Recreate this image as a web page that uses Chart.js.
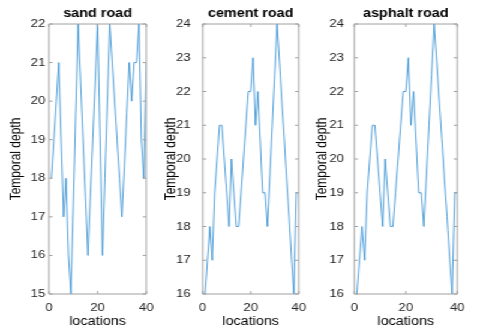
<!DOCTYPE html>
<html>
<head>
<meta charset="utf-8">
<script src="https://cdn.jsdelivr.net/npm/chart.js@4.4.1/dist/chart.umd.min.js"></script>
<style>
  html, body { margin: 0; padding: 0; background: #fff; overflow: hidden; }
  /* the source figure is stretched sideways, so lay out at 400px and stretch */
  #wrap { position: absolute; left: 0; top: 0; width: 400px; height: 332px;
          transform: scaleX(1.2); transform-origin: 0 0; }
  #wrap canvas { position: absolute; top: 0; }
</style>
</head>
<body>
<div id="wrap">
  <canvas id="sand" width="135" height="332" style="left:0px"></canvas>
  <canvas id="cement" width="132" height="332" style="left:130px"></canvas>
  <canvas id="asphalt" width="144" height="332" style="left:256px"></canvas>
</div>
<script>
const locations = [1, 2, 3, 4, 5, 6, 7, 8, 9, 10, 11, 12, 13, 14, 15, 16, 17, 18, 19, 20,
                   21, 22, 23, 24, 25, 26, 27, 28, 29, 30, 31, 32, 33, 34, 35, 36, 37, 38, 39, 40];

const sandDepth = [18, 19, 20, 21, 19, 17, 18, 16, 15, 17.3, 19.7, 22, 20.5, 19, 17.5, 16, 17.5, 19, 20.5, 22,
                   19, 16, 18, 20, 22, 21, 20, 19, 18, 17, 18.3, 19.7, 21, 20, 21, 21, 22, 19, 18, 21];
const cementDepth = [16, 17, 18, 17, 19, 20, 21, 21, 20, 19, 18, 20, 19, 18, 18, 19, 20, 21, 22, 22,
                     23, 21, 22, 20.5, 19, 19, 18, 19.5, 21, 22.5, 24, 22.9, 21.7, 20.6, 19.4, 18.3, 17.1, 16, 19, 19];
const asphaltDepth = [16, 17, 18, 17, 19, 20, 21, 21, 20, 19, 18, 20, 19, 18, 18, 19, 20, 21, 22, 22,
                      23, 21, 22, 20.5, 19, 19, 18, 19.5, 21, 22.5, 24, 22.9, 21.7, 20.6, 19.4, 18.3, 17.1, 16, 19, 19];

const xTicks = [0, 20, 40];
const sandTicks = [15, 16, 17, 18, 19, 20, 21, 22];
const roadTicks = [16, 17, 18, 19, 20, 21, 22, 23, 24];

const FONT = '"Liberation Sans", Arial, Helvetica, sans-serif';
Chart.defaults.font.family = FONT;
Chart.defaults.color = '#262626';

// box round the plot, inward ticks on all four sides, bold title on top
const matlabAxes = {
    id: 'matlabAxes',
    afterDatasetsDraw(chart, args, opts) {
        const ctx = chart.ctx;
        const a = chart.chartArea;
        const x = chart.scales.x;
        const y = chart.scales.y;
        const tl = 3;
        ctx.save();
        ctx.strokeStyle = '#a0a0a0';
        ctx.lineWidth = 1;
        ctx.beginPath();
        ctx.rect(a.left, a.top, a.right - a.left, a.bottom - a.top);
        y.ticks.forEach(t => {
            const py = y.getPixelForValue(t.value);
            ctx.moveTo(a.left, py); ctx.lineTo(a.left + tl, py);
            ctx.moveTo(a.right, py); ctx.lineTo(a.right - tl, py);
        });
        x.ticks.forEach(t => {
            const px = x.getPixelForValue(t.value);
            ctx.moveTo(px, a.bottom); ctx.lineTo(px, a.bottom - tl);
            ctx.moveTo(px, a.top); ctx.lineTo(px, a.top + tl);
        });
        ctx.stroke();
        ctx.fillStyle = '#000';
        ctx.font = 'bold 12px ' + FONT;
        ctx.textAlign = 'center';
        ctx.textBaseline = 'middle';
        ctx.fillText(opts.title, (a.left + a.right) / 2, 14);
        ctx.restore();
    }
};

function makePanel(id, title, values, yTicks, p) {
    const ctx = document.getElementById(id).getContext('2d');
    return new Chart(ctx, {
        type: 'line',
        data: {
            labels: locations,
            datasets: [{
                data: values.map((v, i) => ({ x: locations[i], y: v })),
                borderColor: '#2a8ad0',
                borderWidth: 0.8,
                pointRadius: 0,
                tension: 0,
                fill: false
            }]
        },
        options: {
            responsive: false,
            animation: false,
            events: [],
            layout: { padding: { left: 0, right: p.right, top: 24, bottom: 0 } },
            plugins: {
                legend: { display: false },
                tooltip: { enabled: false },
                matlabAxes: { title: title }
            },
            scales: {
                x: {
                    type: 'linear',
                    min: 0,
                    max: 40,
                    afterBuildTicks: s => { s.ticks = xTicks.map(v => ({ value: v })); },
                    afterFit: s => { s.height = 38; },
                    grid: { display: false, drawTicks: false },
                    border: { display: false },
                    ticks: { padding: 7, maxRotation: 0, font: { size: 11 }, color: '#262626' },
                    title: { display: true, text: 'locations', font: { size: 12 }, color: '#000',
                             padding: { top: 0, bottom: 3 } }
                },
                y: {
                    type: 'linear',
                    min: yTicks[0],
                    max: yTicks[yTicks.length - 1],
                    afterBuildTicks: s => { s.ticks = yTicks.map(v => ({ value: v })); },
                    afterFit: s => { s.width = p.yWidth; },
                    grid: { display: false, drawTicks: false },
                    border: { display: false },
                    ticks: { padding: p.tickPad, font: { size: 11 }, color: '#262626' },
                    title: { display: true, text: 'Temporal depth', font: { size: 12 }, color: '#000',
                             padding: { top: p.titlePad, bottom: 0 } }
                }
            }
        },
        plugins: [matlabAxes]
    });
}

makePanel('sand', 'sand road', sandDepth, sandTicks, { right: 8.33, yWidth: 40.83, tickPad: 3, titlePad: 6.6 });
makePanel('cement', 'cement road', cementDepth, roadTicks, { right: 8.4, yWidth: 38.9, tickPad: 10, titlePad: 5.3 });
makePanel('asphalt', 'asphalt road', asphaltDepth, roadTicks, { right: 18.9, yWidth: 39.25, tickPad: 8.6, titlePad: 5.1 });
</script>
</body>
</html>
